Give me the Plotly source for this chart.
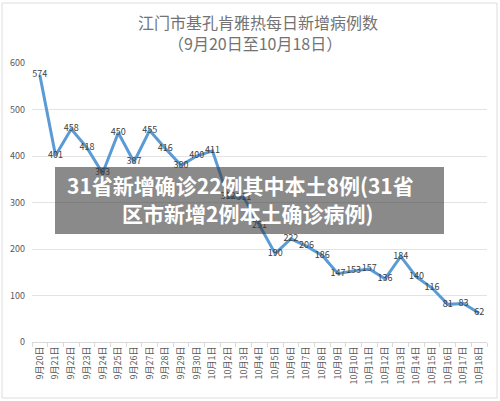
import plotly.graph_objects as go

# daily new cases, 9/20 - 10/18
dates = [f"9月{d}日" for d in range(20, 31)] + [f"10月{d}日" for d in range(1, 19)]
cases = [574, 401, 458, 418, 363, 450, 387, 455, 416, 380, 400,
         411, 312, 311, 251, 190, 222, 206, 186, 147, 153, 157,
         136, 184, 140, 116, 81, 83, 62]
y_ticks = [0, 100, 200, 300, 400, 500, 600]

title_lines = ["江门市基孔肯雅热每日新增病例数", "（9月20日至10月18日）"]
banner_lines = ["31省新增确诊22例其中本土8例(31省", "区市新增2例本土确诊病例)"]

W, H = 500, 401
L, R, T, B = 32, 13, 63, 59
FONT = "Noto Sans CJK SC"


def px(x):
    return (x - L) / (W - L - R)


def py(y):
    return (H - B - y) / (H - T - B)


fig = go.Figure()
fig.add_trace(go.Scatter(
    x=dates, y=cases, mode="lines+text",
    line=dict(color="#5b9bd5", width=3),
    text=[str(v) for v in cases], textposition="middle center",
    textfont=dict(family=FONT, size=9, color="#404040"),
    cliponaxis=False, hoverinfo="skip",
))

fig.update_layout(
    width=W, height=H,
    margin=dict(l=L, r=R, t=T, b=B, autoexpand=False),
    paper_bgcolor="white", plot_bgcolor="white",
    showlegend=False,
    font=dict(family=FONT, color="#595959"),
    xaxis=dict(
        type="category", tickangle=-90, tickfont=dict(size=9, color="#595959"),
        showgrid=False, showline=True, linecolor="#d9d9d9", linewidth=1,
        ticks="outside", tickson="boundaries", ticklen=4, tickcolor="#d9d9d9",
        range=[-0.5, len(dates) - 0.5], automargin=False,
    ),
    yaxis=dict(
        range=[0, 600], tickvals=y_ticks, tickfont=dict(size=9, color="#595959"),
        showgrid=True, gridcolor="#e3e3e3", gridwidth=1, zeroline=False,
        showline=False, ticklabelstandoff=6, automargin=False,
    ),
)

# chart title
for line, cx, cy in zip(title_lines, [258, 255], [22, 43]):
    fig.add_annotation(
        text=line, xref="paper", yref="paper", x=px(cx), y=py(cy),
        showarrow=False, xanchor="center", yanchor="middle",
        font=dict(family=FONT, size=16, color="#737373"),
    )

# overlay banner
fig.add_shape(
    type="rect", xref="paper", yref="paper",
    x0=px(55), x1=px(444), y0=py(234), y1=py(167),
    fillcolor="rgba(60,60,60,0.6)", line=dict(width=0), layer="above",
)
for line, cx, cy in zip(banner_lines, [240, 247], [185, 213]):
    fig.add_annotation(
        text=f"<b>{line}</b>", xref="paper", yref="paper", x=px(cx), y=py(cy),
        showarrow=False, xanchor="center", yanchor="middle",
        font=dict(family=FONT, size=21, color="white"),
    )

# thin frame around the image
fig.add_shape(
    type="rect", xref="paper", yref="paper",
    x0=px(2), x1=px(497), y0=py(398), y1=py(3),
    line=dict(color="#dddddd", width=1),
)

fig.write_html("out.html", config={"displayModeBar": False},
               post_script="document.body.style.margin='0';")
